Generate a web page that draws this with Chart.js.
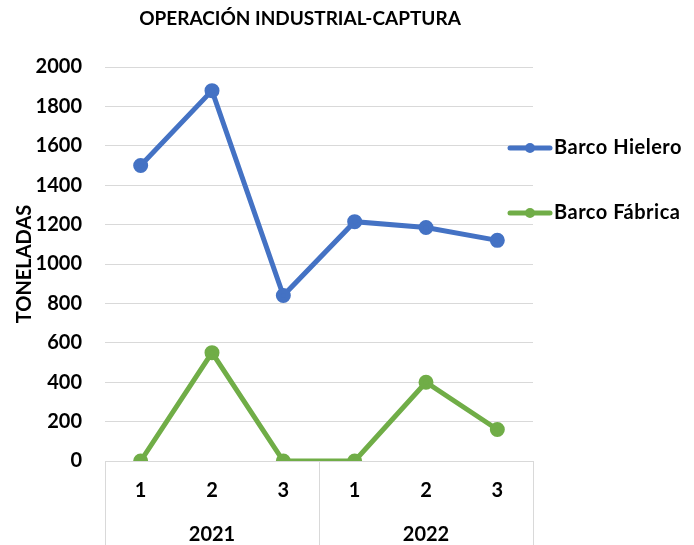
<!DOCTYPE html>
<html>
<head>
<meta charset="utf-8">
<script src="https://cdn.jsdelivr.net/npm/chart.js@4/dist/chart.umd.min.js"></script>
<style>
  html, body { margin: 0; padding: 0; background: #fff; }
</style>
</head>
<body>
<canvas id="capturaChart" width="694" height="545"></canvas>
<script>
// Chart data
const chartTitle = "OPERACIÓN INDUSTRIAL-CAPTURA";
const yTitle = "TONELADAS";
const quarters = ["1", "2", "3", "1", "2", "3"];
const years = ["2021", "2022"];
const hielero = [1500, 1880, 840, 1215, 1185, 1120];
const fabrica = [0, 550, 0, 0, 400, 160];
const seriesNames = ["Barco Hielero", "Barco Fábrica"];
const seriesColors = ["#4472C4", "#70AD47"];

const FONT = "Lato, 'Liberation Sans', sans-serif";
const GRID = "#d9d9d9";

// Title, year groups, category boxes and legend
const extrasPlugin = {
  id: "extras",
  afterDraw(chart) {
    const ctx = chart.ctx;
    const x = chart.scales.x;
    const area = chart.chartArea;
    ctx.save();

    // title
    ctx.fillStyle = "#000";
    ctx.font = "bold 19px " + FONT;
    ctx.textAlign = "center";
    ctx.textBaseline = "middle";
    ctx.fillText(chartTitle, 300, 19);

    // vertical separators under the plot
    const perGroup = quarters.length / years.length;
    ctx.strokeStyle = GRID;
    ctx.lineWidth = 1;
    for (let g = 0; g <= years.length; g++) {
      let px;
      if (g === 0) px = x.left;
      else if (g === years.length) px = x.right;
      else px = (x.getPixelForValue(g * perGroup - 1) + x.getPixelForValue(g * perGroup)) / 2;
      px = Math.round(px) + 0.5;
      ctx.beginPath();
      ctx.moveTo(px, area.bottom);
      ctx.lineTo(px, chart.height);
      ctx.stroke();
    }

    // year labels
    ctx.fillStyle = "#000";
    ctx.font = "bold 20px " + FONT;
    years.forEach((yr, g) => {
      const a = x.getPixelForValue(g * perGroup);
      const b = x.getPixelForValue(g * perGroup + perGroup - 1);
      ctx.fillText(yr, (a + b) / 2, 535);
    });

    // legend
    const legendY = [148, 213];
    chart.data.datasets.forEach((ds, i) => {
      const ly = legendY[i];
      ctx.strokeStyle = ds.borderColor;
      ctx.lineWidth = 5;
      ctx.lineCap = "round";
      ctx.beginPath();
      ctx.moveTo(510, ly);
      ctx.lineTo(550, ly);
      ctx.stroke();
      ctx.fillStyle = ds.borderColor;
      ctx.beginPath();
      ctx.arc(530, ly, 5, 0, Math.PI * 2);
      ctx.fill();
      ctx.fillStyle = "#000";
      ctx.font = "bold 20px " + FONT;
      ctx.letterSpacing = "0.5px";
      ctx.textAlign = "left";
      ctx.fillText(ds.label, 554, ly);
      ctx.letterSpacing = "0px";
    });

    ctx.restore();
  }
};

function makeDataset(label, data, color) {
  return {
    label: label,
    data: data,
    borderColor: color,
    backgroundColor: color,
    pointBackgroundColor: color,
    pointBorderColor: color,
    borderWidth: 5,
    pointRadius: 5,
    pointHoverRadius: 5,
    tension: 0,
    fill: false
  };
}

new Chart(document.getElementById("capturaChart"), {
  type: "line",
  data: {
    labels: quarters,
    datasets: [
      makeDataset(seriesNames[0], hielero, seriesColors[0]),
      makeDataset(seriesNames[1], fabrica, seriesColors[1])
    ]
  },
  options: {
    responsive: false,
    animation: false,
    layout: { padding: { left: 9, right: 161, top: 67, bottom: 0 } },
    plugins: {
      legend: { display: false },
      title: { display: false },
      tooltip: { enabled: false }
    },
    scales: {
      x: {
        type: "category",
        offset: true,
        grid: { display: false, drawTicks: false },
        border: { display: false },
        ticks: {
          color: "#000",
          font: { family: FONT, size: 20, weight: "bold" },
          padding: 18,
          maxRotation: 0,
          autoSkip: false
        },
        afterFit: s => { s.height = 84; }
      },
      y: {
        min: 0,
        max: 2000,
        grid: { color: GRID, lineWidth: 1, drawTicks: false },
        border: { display: false },
        ticks: {
          stepSize: 200,
          color: "#000",
          font: { family: FONT, size: 20, weight: "bold" },
          padding: 23,
          callback: v => String(v)
        },
        title: {
          display: true,
          text: yTitle,
          color: "#000",
          font: { family: FONT, size: 20, weight: "bold" },
          padding: { top: 4, bottom: 4 }
        },
        afterFit: s => { s.width = 96; }
      }
    }
  },
  plugins: [extrasPlugin]
});
</script>
</body>
</html>
